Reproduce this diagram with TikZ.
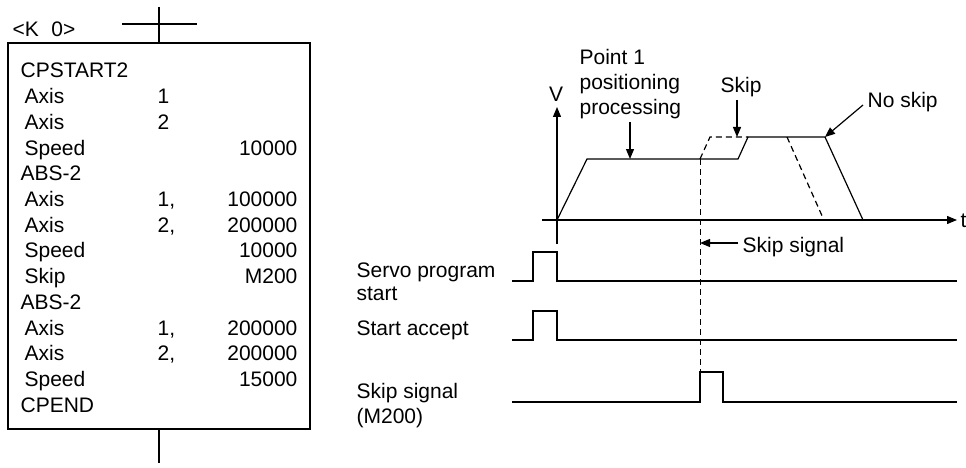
\documentclass[tikz,border=0pt]{standalone}
\usepackage{fontspec}
\setmainfont{Liberation Sans}
\usetikzlibrary{arrows.meta}
\begin{document}
\begin{tikzpicture}[x=1pt,y=-1pt,line width=1.2pt,
  txt/.style={anchor=base west,inner sep=0pt,font=\fontsize{21}{25}\selectfont},
  rtxt/.style={anchor=base east,inner sep=0pt,font=\fontsize{21}{25}\selectfont},
  arr/.style={-{Triangle[length=10pt,width=8pt]}},
  dsh/.style={dash pattern=on 6pt off 4pt}]
\useasboundingbox (0,0) rectangle (966,468);
% ---- ladder part ----
\coordinate (ctop) at (159,7);
\coordinate (cbox) at (159,43);
\coordinate (hl) at (122,24);
\coordinate (hr) at (197,24);
\coordinate (cbot) at (159,429);
\coordinate (cend) at (159,463);
\draw (ctop) -- (cbox);
\draw (hl) -- (hr);
\draw (8,43) rectangle (310,429);
\draw (cbot) -- (cend);
\node[txt] (k0) at (12,37) {<K\hspace{0.6em}0>};
% rows
\node[txt] (r0) at (20,78) {CPSTART2};
\node[txt] (r1) at (24,103.7) {Axis};   \node[txt] (r1b) at (157,103.7) {1};
\node[txt] (r2) at (24,129.4) {Axis};   \node[txt] (r2b) at (157,129.4) {2};
\node[txt] (r3) at (24,155.1) {Speed};  \node[rtxt] (r3c) at (298,155.1) {10000};
\node[txt] (r4) at (20,180.8) {ABS-2};
\node[txt] (r5) at (24,206.5) {Axis};   \node[txt] (r5b) at (157,206.5) {1,}; \node[rtxt] (r5c) at (298,206.5) {100000};
\node[txt] (r6) at (24,232.2) {Axis};   \node[txt] (r6b) at (157,232.2) {2,}; \node[rtxt] (r6c) at (298,232.2) {200000};
\node[txt] (r7) at (24,257.9) {Speed};  \node[rtxt] (r7c) at (298,257.9) {10000};
\node[txt] (r8) at (24,283.6) {Skip};   \node[rtxt] (r8c) at (298,283.6) {M200};
\node[txt] (r9) at (20,309.3) {ABS-2};
\node[txt] (r10) at (24,335) {Axis};    \node[txt] (r10b) at (157,335) {1,}; \node[rtxt] (r10c) at (298,335) {200000};
\node[txt] (r11) at (24,360.7) {Axis};  \node[txt] (r11b) at (157,360.7) {2,}; \node[rtxt] (r11c) at (298,360.7) {200000};
\node[txt] (r12) at (24,386.4) {Speed}; \node[rtxt] (r12c) at (298,386.4) {15000};
\node[txt] (r13) at (20,412) {CPEND};
% ---- speed chart ----
\coordinate (vb) at (557,244);
\coordinate (vt) at (557,107);
\coordinate (tl) at (542,220);
\coordinate (tr) at (957,220);
\draw[arr] (vb) -- (vt);
\draw[arr] (tl) -- (tr);
\node[anchor=base,inner sep=0pt,font=\fontsize{21}{25}\selectfont] (V) at (556,102) {V};
\node[txt] (t) at (960,227) {t};
\draw[line join=miter] (557,220) -- (587,159) -- (738,159) -- (748,137) -- (825,137) -- (863,220);
\draw[dsh] (700,159) -- (710,137) -- (748,137);
\draw[dsh] (787,137) -- (823,218);
\draw[dsh,line width=0.9pt] (700,159) -- (700,372);
% annotations
\node[txt] (p1) at (579,65) {Point 1};
\node[txt] (p2) at (579,90) {positioning};
\node[txt] (p3) at (579,115) {processing};
\coordinate (a1s) at (630,122); \coordinate (a1e) at (630,159);
\draw[arr] (a1s) -- (a1e);
\node[txt] (sk) at (720,93) {Skip};
\coordinate (a2s) at (737,100); \coordinate (a2e) at (737,137);
\draw[arr] (a2s) -- (a2e);
\node[txt] (nsk) at (867,108) {No skip};
\coordinate (a3s) at (863,105); \coordinate (a3e) at (825,137);
\draw[arr] (a3s) -- (a3e);
\node[txt] (ss) at (742,252) {Skip signal};
\coordinate (a4s) at (738,243); \coordinate (a4e) at (700,243);
\draw[arr] (a4s) -- (a4e);
% ---- timing signals ----
\node[txt] (l1) at (356,277) {Servo program};
\node[txt] (l1b) at (356,300) {start};
\node[txt] (l2) at (356,335) {Start accept};
\node[txt] (l3) at (356,398) {Skip signal};
\node[txt] (l3b) at (356,423) {(M200)};
\draw (512,281) -- (533,281) -- (533,252) -- (557,252) -- (557,281) -- (957,281);
\draw (512,340) -- (533,340) -- (533,311) -- (557,311) -- (557,340) -- (957,340);
\draw (512,402) -- (700,402) -- (700,372) -- (723,372) -- (723,402) -- (957,402);
\end{tikzpicture}
\end{document}
